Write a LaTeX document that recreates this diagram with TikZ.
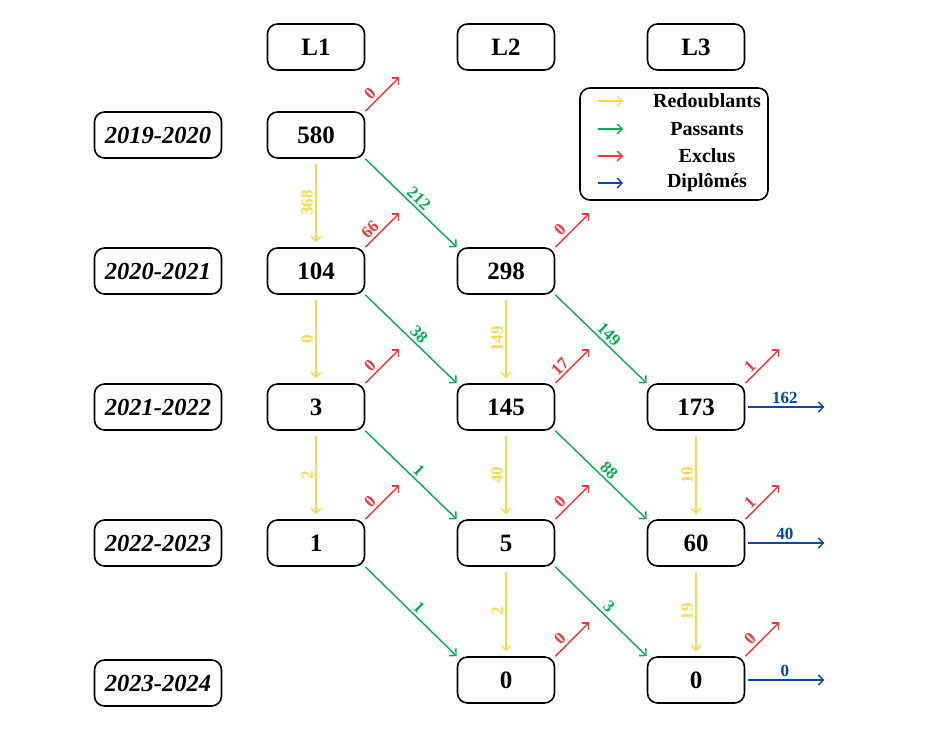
\documentclass[tikz,border=0pt]{standalone}
\usepackage{fontspec}
\setmainfont{Liberation Serif}
\usetikzlibrary{arrows.meta}
\definecolor{redoub}{RGB}{255,214,72}
\definecolor{passe}{RGB}{0,176,80}
\definecolor{exclu}{RGB}{255,51,51}
\definecolor{diplo}{RGB}{0,71,171}

\begin{document}
\begin{tikzpicture}[x=1pt, y=-1pt,
	box/.style={draw, line width=1.6pt, rounded corners=10pt, minimum width=97pt, minimum height=46pt, font=\fontsize{25}{28}\selectfont\bfseries},
	yearbox/.style={box, minimum width=127pt, font=\fontsize{24.5}{28}\selectfont\bfseries\itshape},
	flow/.style={line width=1.4pt, -{Straight Barb[length=5pt,width=10pt]}},
	lab/.style={font=\fontsize{17}{20}\selectfont\bfseries, inner sep=2.5pt},
	legtxt/.style={font=\fontsize{20}{24}\selectfont\bfseries, inner sep=0pt}]

\useasboundingbox (0,0) rectangle (931,745);

%Headers
\foreach \c/\x in {1/316, 2/506, 3/696}
{
	\node[box] (L\c) at (\x,47) {L\c};
}

%Years
\foreach \r/\y/\t in {1/135/2019-2020, 2/271/2020-2021, 3/407/2021-2022, 4/543/2022-2023, 5/683/2023-2024}
{
	\node[yearbox] (Y\r) at (158,\y) {\t};
}

%Students
\foreach \c/\r/\x/\y/\n in {1/1/316/135/580, 1/2/316/271/104, 1/3/316/407/3, 1/4/316/543/1,
	2/2/506/271/298, 2/3/506/407/145, 2/4/506/543/5, 2/5/506/680/0,
	3/3/696/407/173, 3/4/696/543/60, 3/5/696/680/0}
{
	\node[box] (n\c\r) at (\x,\y) {\n};
}

%Redoublants
\foreach \c/\r/\s/\v in {1/1/2/368, 1/2/3/0, 1/3/4/2, 2/2/3/149, 2/3/4/40, 2/4/5/2, 3/3/4/10, 3/4/5/19}
{
	\draw[flow, redoub, shorten <=5pt, shorten >=5pt] (n\c\r) -- node[lab, rotate=90, anchor=south, midway] {\v} (n\c\s);
}

%Passants
\foreach \c/\r/\d/\s/\v in {1/1/2/2/212, 1/2/2/3/38, 1/3/2/4/1, 1/4/2/5/1, 2/2/3/3/149, 2/3/3/4/88, 2/4/3/5/3}
{
	\draw[flow, passe] (n\c\r.south east) -- node[lab, sloped, above, pos=0.52] {\v} (n\d\s.north west);
}

%Exclus
\foreach \c/\r/\v in {1/1/0, 1/2/66, 1/3/0, 1/4/0, 2/2/0, 2/3/17, 2/4/0, 2/5/0, 3/3/1, 3/4/1, 3/5/0}
{
	\path (n\c\r.north east) ++(34,-34) coordinate (x\c\r);
	\draw[flow, exclu] (n\c\r.north east) -- node[lab, sloped, above, pos=0.32] {\v} (x\c\r);
}

%Diplomes
\foreach \r/\v in {3/162, 4/40, 5/0}
{
	\path (n3\r.east) ++(79,0) coordinate (d3\r);
	\draw[flow, diplo, shorten <=3pt] (n3\r.east) -- node[lab, above, midway] {\v} (d3\r);
}

%Legend
\node[draw, line width=1.6pt, rounded corners=10pt, minimum width=188pt, minimum height=112pt] (leg) at (674,144) {};
\foreach \i/\y/\col/\t in {1/101/redoub/Redoublants, 2/129/passe/Passants, 3/156/exclu/Exclus, 4/183/diplo/Diplômés}
{
	\coordinate (ls\i) at (598,\y);
	\coordinate (le\i) at (623,\y);
	\draw[flow, \col] (ls\i) -- (le\i);
	\node[legtxt] (lt\i) at (707,\y) {\t};
}

\end{tikzpicture}
\end{document}
